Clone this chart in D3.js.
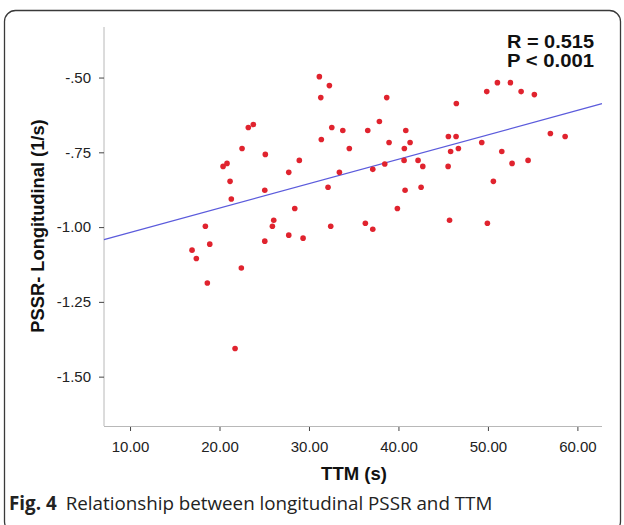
<!DOCTYPE html>
<html>
<head>
<meta charset="utf-8">
<script src="https://cdn.jsdelivr.net/npm/d3@7"></script>
<style>
  html, body { margin: 0; padding: 0; background: #fff; }
  svg { display: block; }
</style>
</head>
<body>
<svg id="chart" width="624" height="525"></svg>
<script>
// TTM (s)
const ttm = [23.22, 23.78, 22.52, 25.12, 20.40, 20.84, 21.18, 21.32, 25.06, 18.42,
  18.91, 16.93, 17.41, 26.06, 25.91, 25.06, 22.44, 18.64, 21.74, 31.16,
  32.28, 31.32, 38.69, 37.87, 32.55, 33.78, 36.57, 40.82, 31.38, 38.95,
  41.30, 34.51, 40.66, 45.58, 28.92, 40.63, 42.19, 45.83, 27.74, 33.40,
  37.13, 38.47, 42.72, 45.55, 32.13, 40.74, 42.53, 28.41, 39.88, 32.43,
  36.30, 37.13, 27.74, 29.34, 45.71, 51.06, 52.51, 49.87, 53.71, 55.19,
  46.47, 46.44, 49.31, 56.98, 58.63, 46.70, 51.55, 52.70, 54.49, 50.61,
  49.94];
// PSSR longitudinal (1/s)
const pssr = [-0.667, -0.657, -0.737, -0.757, -0.797, -0.787, -0.847, -0.906, -0.877, -0.997,
  -1.057, -1.077, -1.105, -0.977, -0.997, -1.047, -1.137, -1.187, -1.406, -0.497,
  -0.527, -0.567, -0.567, -0.647, -0.667, -0.677, -0.677, -0.677, -0.707, -0.717,
  -0.717, -0.737, -0.737, -0.697, -0.777, -0.777, -0.777, -0.747, -0.817, -0.817,
  -0.807, -0.789, -0.797, -0.797, -0.867, -0.877, -0.867, -0.938, -0.938, -0.997,
  -0.987, -1.007, -1.027, -1.037, -0.977, -0.517, -0.517, -0.547, -0.547, -0.557,
  -0.587, -0.697, -0.717, -0.687, -0.697, -0.737, -0.747, -0.787, -0.777, -0.847,
  -0.987];
const xTicks = [10, 20, 30, 40, 50, 60];
const yTicks = [-0.5, -0.75, -1.0, -1.25, -1.5];
const yTickLabels = ["-.50", "-.75", "-1.00", "-1.25", "-1.50"];
const fitIntercept = -1.0997;
const fitSlope = 0.008163;
const statLines = ["R = 0.515", "P < 0.001"];
const xTitle = "TTM (s)";
const yTitle = "PSSR- Longitudinal (1/s)";
const captionBold = "Fig. 4";
const captionText = "Relationship between longitudinal PSSR and TTM";

(function () {
const svg = d3.select("#chart");
const pL = 104, pR = 602, pT = 27, pB = 426;
const x = d3.scaleLinear().domain([7.09, 62.75]).range([pL, pR]);
const y = d3.scaleLinear().domain([-1.665, -0.331]).range([pB, pT]);
const arial = "Arial, 'Liberation Sans', Helvetica, sans-serif";

// outer frame
svg.append("rect").attr("x", 4.5).attr("y", 10.5).attr("width", 616).attr("height", 522)
  .attr("rx", 11).attr("fill", "none").attr("stroke", "#3a3a3a").attr("stroke-width", 1.3);

// y axis
const yAxis = d3.axisLeft(y).tickValues(yTicks).tickSize(5).tickSizeOuter(0)
  .tickFormat((d, i) => yTickLabels[i]);
const gy = svg.append("g").attr("transform", `translate(${pL},0)`).call(yAxis);
gy.select(".domain").attr("stroke", "#b8b8b8").attr("d", `M0,${pT}V${pB}`);
gy.selectAll(".tick line").attr("stroke", "#444");
gy.selectAll("text").attr("font-family", arial)
  .attr("font-size", 15).attr("fill", "#222").attr("x", -13);

// x axis
svg.append("line").attr("x1", pL).attr("x2", pR).attr("y1", pB + 0.5).attr("y2", pB + 0.5)
  .attr("stroke", "#b8b8b8");
const xAxis = d3.axisBottom(x).tickValues(xTicks).tickSize(4).tickSizeOuter(0)
  .tickFormat(d3.format(".2f"));
const gx = svg.append("g").attr("transform", `translate(0,${pB + 1})`).call(xAxis);
gx.select(".domain").remove();
gx.selectAll(".tick line").attr("stroke", "#444");
gx.selectAll("text").attr("font-family", arial)
  .attr("font-size", 15).attr("fill", "#222").attr("y", 14);

// regression line
const [x0, x1] = x.domain();
svg.append("line")
  .attr("x1", x(x0)).attr("y1", y(fitIntercept + fitSlope * x0))
  .attr("x2", x(x1)).attr("y2", y(fitIntercept + fitSlope * x1))
  .attr("stroke", "#5b5bdc").attr("stroke-width", 1.3);

// points
svg.append("g").selectAll("circle").data(ttm.map((t, i) => [t, pssr[i]])).join("circle")
  .attr("cx", d => x(d[0])).attr("cy", d => y(d[1])).attr("r", 2.8)
  .attr("fill", "#e0232e");

// stats
svg.append("g").selectAll("text").data(statLines).join("text")
  .attr("x", 507).attr("y", (d, i) => 48 + i * 18.5)
  .attr("font-family", arial).attr("font-weight", "bold")
  .attr("font-size", 18).attr("fill", "#111")
  .attr("textLength", 87).attr("lengthAdjust", "spacingAndGlyphs").text(d => d);

// axis titles
svg.append("text").attr("x", 354).attr("y", 480).attr("text-anchor", "middle")
  .attr("font-family", arial).attr("font-weight", "bold")
  .attr("font-size", 18.5).attr("fill", "#111").text(xTitle);
svg.append("text").attr("transform", "translate(44,226) rotate(-90)").attr("text-anchor", "middle")
  .attr("font-family", arial).attr("font-weight", "bold")
  .attr("font-size", 18.3).attr("fill", "#111").text(yTitle);

// caption
const cap = svg.append("text").attr("x", 9).attr("y", 510)
  .attr("font-family", "'Open Sans', 'Noto Sans', sans-serif").attr("font-size", 18.8).attr("fill", "#222");
cap.append("tspan").attr("font-weight", "bold").text(captionBold);
cap.append("tspan").attr("dx", 9).text(captionText);
})();
</script>
</body>
</html>
